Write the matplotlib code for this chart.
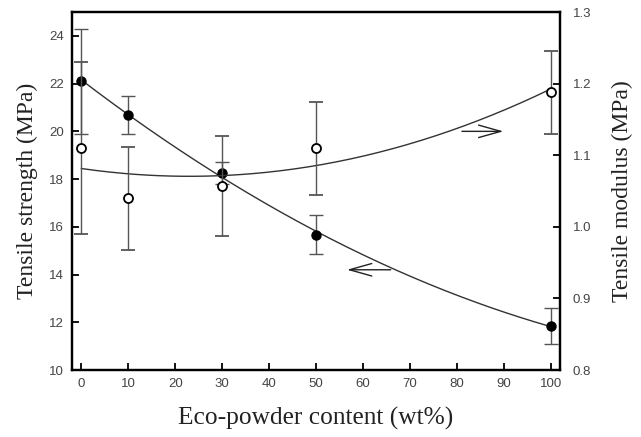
import numpy as np
import matplotlib.pyplot as plt

# Eco-powder content (wt%)
content = np.array([0, 10, 30, 50, 100])

# Tensile strength (MPa), left axis
strength = np.array([22.1, 20.7, 18.25, 15.66, 11.84])
strength_err = np.array([2.2, 0.8, 0.45, 0.82, 0.76])

# Tensile modulus (MPa), right axis
modulus = np.array([1.11, 1.04, 1.057, 1.11, 1.188])
modulus_err = np.array([0.12, 0.072, 0.07, 0.065, 0.058])

serif = 'Liberation Serif'
sans = 'Liberation Sans'

fig = plt.figure(figsize=(6.41, 4.37), dpi=100)
ax = fig.add_axes([0.1123, 0.1533, 0.7615, 0.8192])
ax2 = ax.twinx()

# Quadratic fits through each series
xf = np.linspace(0, 100, 200)
fit_s = np.polyval(np.polyfit(content, strength, 2), xf)
fit_m = np.polyval(np.polyfit(content, modulus, 2), xf)

ax.plot(xf, fit_s, color='#333333', lw=1.0)
ax.errorbar(content, strength, yerr=strength_err, fmt='o', color='black',
            ms=6.5, ecolor='#555555', elinewidth=1.0, capsize=5, capthick=1.0)

ax2.plot(xf, fit_m, color='#333333', lw=1.0)
ax2.errorbar(content, modulus, yerr=modulus_err, fmt='o', mfc='white',
             mec='black', mew=1.3, ms=6.5, ecolor='#555555',
             elinewidth=1.0, capsize=5, capthick=1.0)

# Arrows pointing to the axis each curve belongs to
arrow = dict(arrowstyle='->,head_length=1.6,head_width=0.45',
             color='#222222', lw=1.0)
ax.annotate('', xy=(56, 14.2), xytext=(66.5, 14.2), arrowprops=arrow)
ax.annotate('', xy=(90.5, 20.0), xytext=(80.5, 20.0), arrowprops=arrow)

ax.set_xlim(-2, 102)
ax.set_ylim(10, 25)
ax2.set_ylim(0.8, 1.3)
ax.set_xticks(np.arange(0, 101, 10))
ax.set_yticks(np.arange(10, 25, 2))
ax2.set_yticks(np.arange(0.8, 1.31, 0.1))
ax2.set_yticklabels(['0.8', '0.9', '1.0', '1.1', '1.2', '1.3'])

for a in (ax, ax2):
    a.tick_params(direction='in', length=5, width=1.3, labelsize=9.5,
                  labelcolor='#444444', pad=6)
    for s in a.spines.values():
        s.set_linewidth(1.6)
ax.tick_params(top=False)
ax2.tick_params(pad=9)

for lab in ax.get_xticklabels() + ax.get_yticklabels() + ax2.get_yticklabels():
    lab.set_fontfamily(sans)

ax.set_xlabel('Eco-powder content (wt%)', fontfamily=serif, fontsize=18.3,
              color='#222222', labelpad=12)
ax.set_ylabel('Tensile strength (MPa)', fontfamily=serif, fontsize=17,
              color='#222222', labelpad=8)
ax2.set_ylabel('Tensile modulus (MPa)', fontfamily=serif, fontsize=17,
               color='#222222', labelpad=15)

fig.savefig('out.png', dpi=100)
